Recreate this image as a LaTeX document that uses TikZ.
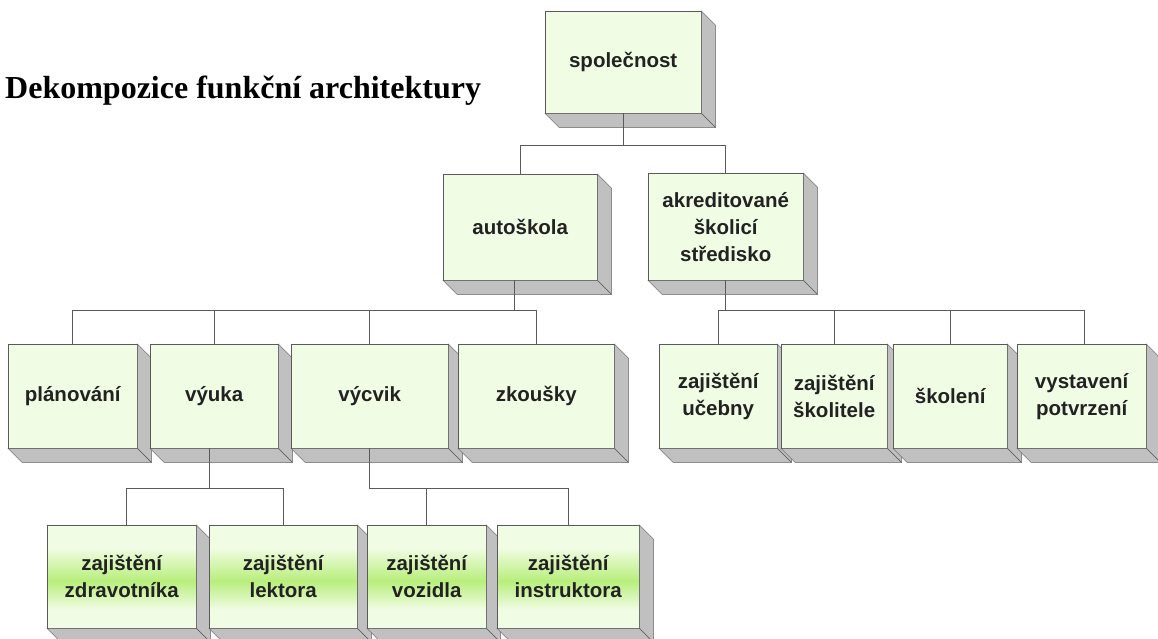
\documentclass[tikz,border=0pt]{standalone}
\usepackage{fontspec}
\setmainfont{Liberation Sans}
\newfontfamily\titlefont{Liberation Serif}
\definecolor{face}{HTML}{F1FCE4}
\definecolor{band}{HTML}{B8EE7C}
\definecolor{sidegray}{HTML}{C0C0C0}
\definecolor{edge}{HTML}{5A5A5A}
\definecolor{ink}{HTML}{222222}
\pgfdeclareverticalshading{greenband}{100bp}{color(0bp)=(face); color(34bp)=(face); color(48bp)=(band); color(64bp)=(face); color(100bp)=(face)}
\tikzset{
  box/.style={draw=edge, fill=face, anchor=north west, inner sep=0pt, align=center,
    text=ink, font=\bfseries\fontsize{20.5}{27}\selectfont},
  glowbox/.style={box, shade, shading=greenband},
  sideface/.style={fill=sidegray, draw=edge},
  link/.style={draw=edge, line width=0.8pt}
}
\begin{document}
\begin{tikzpicture}[x=1pt,y=-1pt]
\useasboundingbox (0,0) rectangle (1158,638);
\node[anchor=base west, inner sep=0pt, font=\titlefont\bfseries\fontsize{32}{36}\selectfont] (title) at (5,98) {Dekompozice funkční architektury};
% edit here for the boxes: name/x/y/width/height/text
\foreach \n/\x/\y/\w/\h/\t in {spol/545/11/156/102/{společnost},
  auto/443/174/154/106/{autoškola},
  akred/648/173/155/107/{akreditované\\školicí\\středisko},
  plan/8/344/129/104/{plánování},
  vyuka/150/344/128/104/{výuka},
  vycvik/291/344/157/104/{výcvik},
  zkousky/458/344/156/104/{zkoušky},
  ucebna/659/344/118/104/{zajištění\\učebny},
  skolitel/781/344/106/104/{zajištění\\školitele},
  skoleni/893/344/114/104/{školení},
  potvrz/1017/344/129/104/{vystavení\\potvrzení}}
{
\node[box, minimum width=\w pt, minimum height=\h pt] (\n) at (\x,\y) {\t};
\draw[sideface] (\n.north east) -- ++(14,14) -- ([shift={(14,14)}]\n.south east) -- (\n.south east) -- cycle;
\draw[sideface] (\n.south west) -- ++(14,14) -- ([shift={(14,14)}]\n.south east) -- (\n.south east) -- cycle;
}
% edit here for the shaded boxes
\foreach \n/\x/\w/\t in {zdrav/47/149/{zajištění\\zdravotníka},
  lektor/209/148/{zajištění\\lektora},
  vozidlo/367/119/{zajištění\\vozidla},
  instr/497/142/{zajištění\\instruktora}}
{
\node[glowbox, minimum width=\w pt, minimum height=103pt] (\n) at (\x,525) {\t};
\draw[sideface] (\n.north east) -- ++(14,14) -- ([shift={(14,14)}]\n.south east) -- (\n.south east) -- cycle;
\draw[sideface] (\n.south west) -- ++(14,14) -- ([shift={(14,14)}]\n.south east) -- (\n.south east) -- cycle;
}
% connectors
\foreach \c in {auto, akred}
\draw[link] (spol.south) -- ++(0,32) -| (\c.north);
\foreach \c in {plan, vyuka, vycvik, zkousky}
\draw[link] ([xshift=-6pt]auto.south) -- ++(0,30) -| (\c.north);
\foreach \c in {ucebna, skolitel, skoleni}
\draw[link] (akred.south) -- ++(0,30) -| (\c.north);
\draw[link] (akred.south) -- ++(0,30) -| ([xshift=3pt]potvrz.north);
\draw[link] ([xshift=-5pt]vyuka.south) -- ++(0,40) -| ([xshift=5pt]zdrav.north);
\draw[link] ([xshift=-5pt]vyuka.south) -- ++(0,40) -| (lektor.north);
\foreach \c in {vozidlo, instr}
\draw[link] (vycvik.south) -- ++(0,40) -| (\c.north);
\end{tikzpicture}
\end{document}
